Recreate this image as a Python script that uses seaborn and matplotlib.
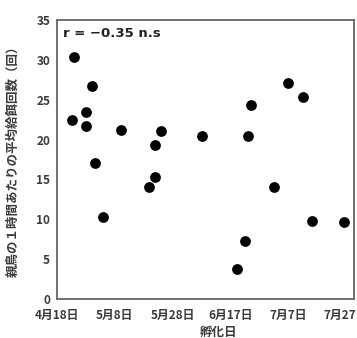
"""Scatter of hatching date vs. mean feeding visits per hour."""

import matplotlib
matplotlib.use("Agg")
import matplotlib.pyplot as plt
import pandas as pd
import seaborn as sns

# days since 4月18日
hatch_day = [5.2, 5.9, 10.1, 10.1, 12.0, 13.2, 16.0, 22.1, 32.0, 34.0, 34.0,
             36.1, 50.2, 62.4, 65.3, 66.1, 67.2, 75.3, 80.2, 85.3, 88.4, 99.4]
feeding_rate = [22.5, 30.4, 23.5, 21.7, 26.7, 17.1, 10.3, 21.2, 14.1, 15.3, 19.3,
                21.1, 20.4, 3.8, 7.3, 20.4, 24.3, 14.0, 27.1, 25.3, 9.8, 9.6]

x_ticks = [0, 20, 40, 60, 80, 100]
x_tick_labels = ["4月18日", "5月8日", "5月28日", "6月17日", "7月7日", "7月27日"]
y_ticks = [0, 5, 10, 15, 20, 25, 30, 35]

sns.set_theme(style="white")
plt.rcParams["font.family"] = ["Noto Sans CJK JP", "DejaVu Sans"]
plt.rcParams["font.weight"] = "bold"

df = pd.DataFrame({"hatch": hatch_day, "rate": feeding_rate})

fig = plt.figure(figsize=(3.57, 3.38), dpi=100)
ax = fig.add_axes([0.160, 0.1154, 0.832, 0.8256])

sns.scatterplot(data=df, x="hatch", y="rate", ax=ax, color="black",
                s=60, edgecolor="black", linewidth=0)

ax.set_xlim(0, 103)
ax.set_ylim(0, 35)
ax.set_xticks(x_ticks)
ax.set_xticklabels(x_tick_labels)
ax.set_yticks(y_ticks)

spine_color = "#6e6262"
for sp in ax.spines.values():
    sp.set_color(spine_color)
    sp.set_linewidth(1.3)

ax.tick_params(axis="both", direction="in", length=2, width=0.8,
               color=spine_color, labelsize=8.5, labelcolor="#3a3a3a")
ax.tick_params(axis="x", pad=7)
ax.tick_params(axis="y", pad=5)
for lab in ax.get_xticklabels() + ax.get_yticklabels():
    lab.set_fontweight("bold")

ax.set_xlabel("孵化日", fontsize=9, fontweight="bold", color="#3a3a3a")
ax.xaxis.set_label_coords(0.545, -0.097)
ax.set_ylabel("親鳥の１時間あたりの平均給餌回数（回）", fontsize=9,
              fontweight="bold", color="#3a3a3a")
ax.yaxis.set_label_coords(-0.125, 0.505)

ax.text(0.02, 0.975, "r = −0.35 n.s", transform=ax.transAxes, ha="left",
        va="top", fontsize=9.5, fontweight="bold", color="#222222",
        family=["DejaVu Sans"])

fig.savefig("out.png", dpi=100)
